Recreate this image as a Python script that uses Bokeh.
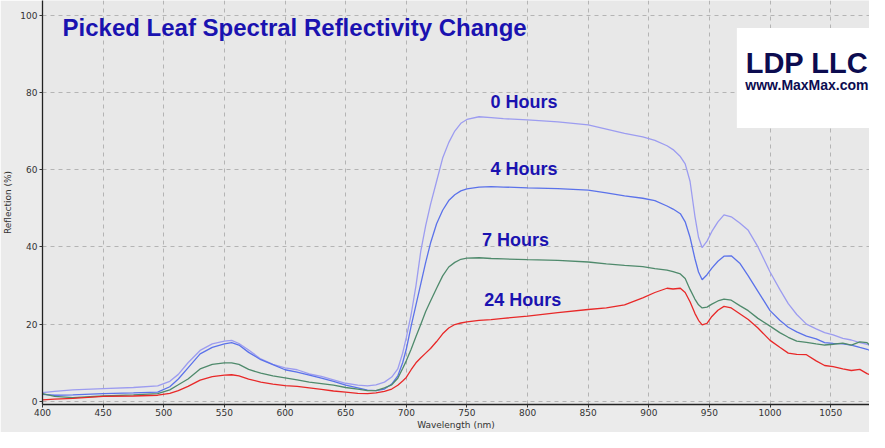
from bokeh.plotting import figure
from bokeh.models import Label, BoxAnnotation, FixedTicker, Range1d
from bokeh.embed import file_html
from bokeh.resources import INLINE

wavelength = [400, 410, 425, 450, 475, 495, 505, 512, 520, 530,
              540, 550, 556, 562, 570, 580, 590, 600, 610, 620,
              630, 640, 650, 660, 668, 675, 682, 688, 693, 697,
              700, 704, 708, 712, 716, 720, 725, 730, 735, 740,
              745, 750, 760, 770, 780, 800, 825, 850, 865, 880,
              895, 905, 915, 920, 926, 930, 934, 938, 941, 944,
              948, 952, 957, 962, 968, 975, 982, 990, 1000, 1008,
              1015, 1022, 1030, 1038, 1045, 1052, 1060, 1067, 1074, 1080,
              1085, 1089]

hours_0 = [2.3, 2.6, 3.0, 3.3, 3.6, 4.0, 5.2, 7.0, 10.0, 13.2,
           14.9, 15.6, 15.8, 15.0, 13.3, 11.0, 9.6, 8.7, 8.2, 7.1,
           6.5, 5.6, 4.7, 4.2, 4.0, 4.3, 5.0, 6.3, 8.4, 12.5,
           16.5, 22.5, 30.0, 39.0, 45.5, 51.0, 57.0, 63.0, 67.0, 70.0,
           72.0, 73.0, 73.7, 73.5, 73.2, 72.9, 72.4, 71.6, 70.5, 69.4,
           68.5, 67.6, 66.2, 65.2, 63.4, 61.5, 57.0, 48.0, 42.5, 39.8,
           41.5, 44.0, 46.5, 48.3, 47.8, 46.2, 44.3, 40.0, 33.5, 29.0,
           25.3, 22.5, 20.0, 18.8, 17.8, 17.2, 16.3, 15.9, 15.2, 14.8,
           14.0, 13.0]

hours_4 = [1.8, 1.6, 1.7, 2.0, 2.2, 2.4, 3.8, 5.8, 8.7, 12.3,
           14.0, 14.9, 15.2, 14.6, 12.7, 10.8, 9.5, 8.2, 7.6, 6.8,
           6.0, 5.2, 4.2, 3.5, 2.9, 2.8, 3.2, 4.5, 6.6, 10.0,
           13.5, 19.5, 25.0, 30.5, 36.0, 41.0, 46.0, 49.5, 52.0, 53.5,
           54.5, 55.0, 55.5, 55.6, 55.5, 55.3, 55.1, 54.7, 54.0, 53.2,
           52.6, 52.0, 50.6, 49.8, 48.6, 46.5, 42.5, 37.0, 33.5, 31.5,
           32.8, 34.5, 36.3, 37.6, 37.7, 35.8, 32.5, 28.5, 23.5, 21.0,
           19.2, 18.0, 16.9, 16.2, 15.2, 15.0, 14.9, 14.6, 14.0, 13.5,
           12.8, 12.0]

hours_7 = [2.0, 1.3, 1.0, 1.4, 1.7, 2.0, 3.0, 4.3, 5.8, 8.4,
           9.6, 10.0, 10.0, 9.6, 8.3, 7.3, 6.6, 6.1, 5.6, 5.0,
           4.6, 4.2, 3.6, 3.2, 2.8, 2.8, 3.5, 4.3, 6.0, 8.5,
           10.5, 13.5, 16.8, 20.0, 23.3, 26.0, 29.3, 32.5, 34.8, 36.0,
           36.8, 37.1, 37.2, 37.0, 36.9, 36.7, 36.5, 36.1, 35.6, 35.2,
           34.9, 34.4, 34.0, 33.6, 33.0, 31.8, 29.0, 26.5, 25.0, 24.2,
           24.4, 25.2, 26.0, 26.5, 26.2, 24.8, 23.5, 21.5, 19.5, 17.8,
           16.6, 15.6, 15.3, 14.9, 14.6, 14.8, 15.1, 14.6, 15.4, 15.2,
           13.8, 15.8]

hours_24 = [0.4, 0.6, 0.8, 1.3, 1.4, 1.6, 2.1, 2.8, 3.9, 5.5,
            6.4, 6.8, 6.9, 6.6, 5.8, 5.0, 4.5, 4.1, 3.9, 3.5,
            3.1, 2.7, 2.4, 2.1, 2.0, 2.2, 2.6, 3.2, 4.2, 5.3,
            6.2, 8.2, 10.0, 11.3, 12.5, 13.7, 15.5, 17.5, 19.0, 19.9,
            20.3, 20.6, 21.0, 21.2, 21.5, 22.1, 23.0, 23.8, 24.2, 25.0,
            26.8, 28.2, 29.3, 29.1, 29.3, 28.2, 25.8, 22.8, 21.0, 19.8,
            20.2, 22.0, 23.6, 24.6, 24.2, 22.7, 21.2, 19.0, 15.8, 14.0,
            12.5, 12.2, 12.1, 10.5, 9.3, 9.0, 8.4, 8.0, 8.3, 7.2,
            6.6, 6.9]

series_names = ["0 Hours", "4 Hours", "7 Hours", "24 Hours"]
series_colors = ["#9c9cf0", "#5b72ea", "#4f8a6c", "#e82828"]
x_ticks = [400, 450, 500, 550, 600, 650, 700, 750, 800, 850, 900, 950, 1000, 1050, 1100]
y_ticks = [0, 20, 40, 60, 80, 100]

BG = "#e8e8e8"
TITLE_BLUE = "#1a12b0"

p = figure(width=869, height=432, output_backend="svg", toolbar_location=None,
           x_range=Range1d(400, 1082), y_range=Range1d(-0.8, 103.8),
           min_border_left=30, min_border_right=0, min_border_top=0, min_border_bottom=20,
           background_fill_color=BG, border_fill_color="#ebebeb", outline_line_color=None)

for vals, col in zip([hours_0, hours_4, hours_7, hours_24], series_colors):
    p.line(wavelength, vals, line_color=col, line_width=1.3)

p.xaxis.ticker = FixedTicker(ticks=x_ticks)
p.yaxis.ticker = FixedTicker(ticks=y_ticks)
for ax in (p.xaxis[0], p.yaxis[0]):
    ax.axis_line_color = "#222222"
    ax.axis_line_width = 1.3
    ax.major_tick_line_color = "#333333"
    ax.major_tick_in = 0
    ax.major_tick_out = 3
    ax.minor_tick_line_color = None
    ax.major_label_text_font = "DejaVu Sans"
    ax.major_label_text_font_size = "9px"
    ax.major_label_text_color = "#333333"
    ax.axis_label_text_font = "DejaVu Sans"
    ax.axis_label_text_font_size = "9px"
    ax.axis_label_text_font_style = "normal"
    ax.axis_label_text_color = "#333333"
p.xaxis.major_label_standoff = 1
p.yaxis.major_label_standoff = 2
p.xaxis.axis_label_standoff = 1
p.yaxis.axis_label_standoff = 4
p.xaxis.axis_label = "Wavelength (nm)"
p.yaxis.axis_label = "Reflection (%)"

p.grid.grid_line_color = "#b4b4b4"
p.grid.grid_line_dash = "4 4"
p.grid.grid_line_width = 1

p.add_layout(Label(x=416.5, y=96.9, text="Picked Leaf Spectral Reflectivity Change",
                   text_font="Liberation Sans", text_font_style="bold", text_font_size="24px",
                   text_color=TITLE_BLUE, text_baseline="middle", text_align="left"))

label_pos = [(797, 77.5), (797, 60.1), (790, 41.7), (796, 26.3)]
for name, (lx, ly) in zip(series_names, label_pos):
    p.add_layout(Label(x=lx, y=ly, text=name, text_font="Liberation Sans",
                       text_font_style="bold", text_font_size="18px", text_color=TITLE_BLUE,
                       text_align="center", text_baseline="middle"))

p.add_layout(BoxAnnotation(left=972.6, right=1082, top=96.7, bottom=70.8,
                           fill_color="white", fill_alpha=1.0, line_color=None, level="overlay"))
p.add_layout(Label(x=1030.4, y=87.5, text="LDP LLC", text_font="Liberation Sans",
                   text_font_style="bold", text_font_size="29px", text_color="#0c0c50",
                   text_align="center", text_baseline="middle", level="overlay"))
p.add_layout(Label(x=1030.4, y=81.8, text="www.MaxMax.com", text_font="Liberation Sans",
                   text_font_style="bold", text_font_size="14px", text_color="#0c0c50",
                   text_align="center", text_baseline="middle", level="overlay"))

open("out.html", "w").write(file_html(p, INLINE))
